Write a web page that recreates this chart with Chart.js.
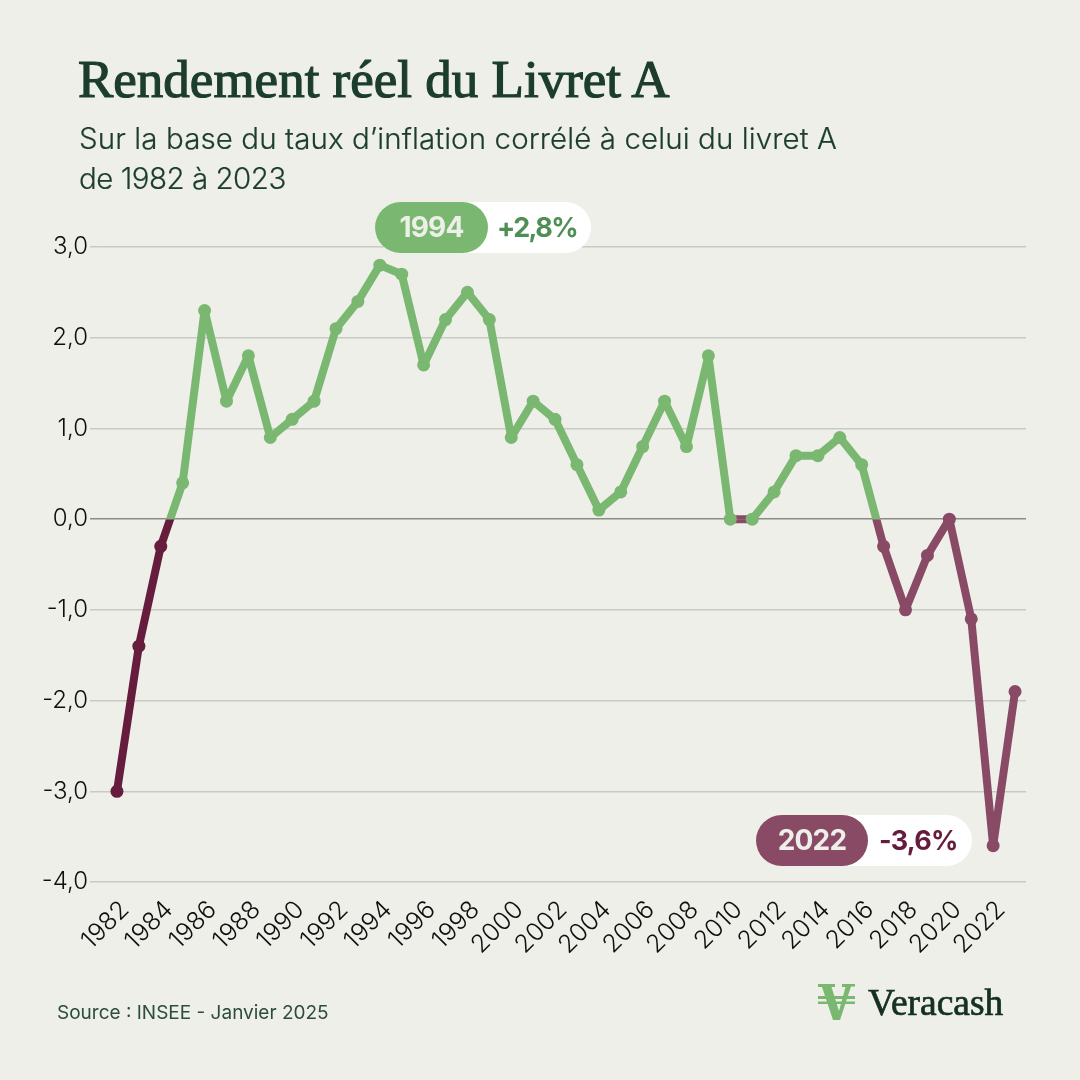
<!DOCTYPE html>
<html lang="fr">
<head>
<meta charset="utf-8">
<title>Rendement réel du Livret A</title>
<script src="https://cdn.jsdelivr.net/npm/chart.js@4"></script>
<style>
  html, body { margin: 0; padding: 0; background: #eeefe9; }
  #page { position: relative; width: 1080px; height: 1080px; overflow: hidden; background: #eeefe9; color: #1c3d2d; font-family: Inter, sans-serif; }
  #page canvas { position: absolute; left: 0; top: 0; }
  .txt { position: absolute; white-space: nowrap; }
  #title { left: 78px; top: 49px; font: 400 53px/60px "Liberation Serif", serif; -webkit-text-stroke: 1.2px #1c3d2d; color: #1c3d2d; }
  .sub { left: 79px; font-weight: 300; font-size: 29.5px; line-height: 40px; color: #1c3d2d; -webkit-text-stroke: 0.2px #1c3d2d; }
  #source { left: 57px; top: 1000px; font-weight: 400; font-size: 19px; line-height: 26px; color: #2c4c3c; }
  #brand { left: 868px; top: 983px; font: 400 37.500px/40px "Liberation Serif", serif; -webkit-text-stroke: 0.7px #14301f; color: #14301f; }
  .pill { position: absolute; height: 51px; border-radius: 26px; background: #fff; font-weight: 700; font-size: 27px; line-height: 51px; letter-spacing: -0.8px; }
  .pill b { position: absolute; left: 0; top: 0; height: 51px; border-radius: 26px; text-align: center; color: #eeefe9; font-weight: 700; font-size: 28px; }
  .pill span { position: absolute; top: 0; }
  #logo { position: absolute; left: 818px; top: 984px; }
</style>
</head>
<body>
<div id="page">
  <canvas id="chart" width="1080" height="1080"></canvas>
  <div class="txt" id="title">Rendement réel du Livret A</div>
  <div class="txt sub" style="top:118px;letter-spacing:0.1px">Sur la base du taux d’inflation corrélé à celui du livret A</div>
  <div class="txt sub" style="top:158px;letter-spacing:-0.5px">de 1982 à 2023</div>
  <div class="pill" style="left:375px;top:202px;width:216px">
    <b style="width:113px;background:#7ab872">1994</b><span style="left:122px;color:#4f8f55;letter-spacing:-1.600px">+2,8%</span>
  </div>
  <div class="pill" style="left:756px;top:815px;width:216px">
    <b style="width:112px;background:#894a66">2022</b><span style="left:123px;color:#661c3d">-3,6%</span>
  </div>
  <div class="txt" id="source">Source : INSEE - Janvier 2025</div>
  <svg id="logo" width="38" height="38" viewBox="0 0 38 38">
    <path fill="#7ab872" d="M0 0H17V3H13.500L21 27 27.500 3H24V0H37V2.500H33L22 36H15L4 3H0Z"/>
    <path fill="#7ab872" d="M0 12H37V15H0ZM0 17.500H37V20H0Z"/>
  </svg>
  <div class="txt" id="brand">Veracash</div>
</div>
<script>
const years = ['1982','1983','1984','1985','1986','1987','1988','1989','1990','1991','1992','1993','1994','1995',
  '1996','1997','1998','1999','2000','2001','2002','2003','2004','2005','2006','2007','2008','2009','2010','2011',
  '2012','2013','2014','2015','2016','2017','2018','2019','2020','2021','2022','2023'];
const rendement = [-3.0,-1.4,-0.3,0.4,2.3,1.3,1.8,0.9,1.1,1.3,2.1,2.4,2.8,2.7,
  1.7,2.2,2.5,2.2,0.9,1.3,1.1,0.6,0.1,0.3,0.8,1.3,0.8,1.8,0.0,0.0,
  0.3,0.7,0.7,0.9,0.6,-0.3,-1.0,-0.4,0.0,-1.1,-3.6,-1.9];

const GREEN = '#7ab872';
const WINE = '#661c3d';
const PLUM = '#894a66';
const GRID = '#c9cac3';
const ZERO = '#8b8b85';

// vin avant 1985, prune ensuite
const negColor = i => i < 3 ? WINE : PLUM;

function pointColor(i) {
  const v = rendement[i];
  if (v < 0) return negColor(i);
  if (v === 0 && i > 30) return PLUM;
  return GREEN;
}

// coupe la ligne net sur le zero : une couche au dessus, une en dessous
const zeroClip = {
  id: 'zeroClip',
  beforeDatasetDraw(chart, args) {
    const side = chart.data.datasets[args.index].side;
    if (!side) return;
    const y0 = chart.scales.y.getPixelForValue(0);
    const { ctx, width, height } = chart;
    ctx.save();
    ctx.beginPath();
    if (side === 'haut') ctx.rect(0, 0, width, y0);
    else ctx.rect(0, y0, width, height - y0);
    ctx.clip();
  },
  afterDatasetDraw(chart, args) {
    if (chart.data.datasets[args.index].side) chart.ctx.restore();
  }
};

const lineLayer = (side, segColor) => ({
  data: rendement,
  side: side,
  order: 2,
  borderWidth: 8,
  borderJoinStyle: 'round',
  tension: 0,
  pointRadius: 0,
  pointHoverRadius: 0,
  segment: { borderColor: segColor }
});

new Chart(document.getElementById('chart'), {
  type: 'line',
  data: {
    labels: years,
    datasets: [
      {
        // les points, au dessus des deux couches de ligne
        data: rendement,
        order: 1,
        showLine: false,
        pointRadius: 6.5,
        pointHoverRadius: 6.5,
        pointBorderWidth: 0,
        pointBackgroundColor: rendement.map((v, i) => pointColor(i))
      },
      lineLayer('haut', c => (c.p0.parsed.y === 0 && c.p1.parsed.y === 0) ? PLUM : GREEN),
      lineLayer('bas', c => negColor(c.p0DataIndex))
    ]
  },
  plugins: [zeroClip],
  options: {
    responsive: false,
    animation: false,
    devicePixelRatio: 1,
    layout: { padding: { top: 247, right: 54 } },
    plugins: { legend: { display: false }, tooltip: { enabled: false } },
    scales: {
      x: {
        offset: true,
        afterFit: s => { s.height = 198; },
        border: { display: false },
        grid: { display: false },
        ticks: {
          autoSkip: false,
          maxRotation: 45,
          minRotation: 45,
          padding: 5,
          labelOffset: 8,
          color: '#0f0f0f',
          font: { family: 'Inter', size: 25, weight: '300' },
          callback: (v, i) => i % 2 === 0 ? years[i] : ''
        }
      },
      y: {
        min: -4,
        max: 3,
        afterFit: s => { s.width = 106; },
        border: { display: false },
        grid: {
          color: c => c.tick.value === 0 ? ZERO : GRID,
          tickColor: c => c.tick.value === 0 ? ZERO : GRID,
          lineWidth: 1.5,
          tickLength: 16
        },
        ticks: {
          stepSize: 1,
          padding: 2,
          color: '#0f0f0f',
          font: { family: 'Inter', size: 24, weight: '300' },
          callback: v => v.toFixed(1).replace('.', ',')
        }
      }
    }
  }
});
</script>
</body>
</html>
